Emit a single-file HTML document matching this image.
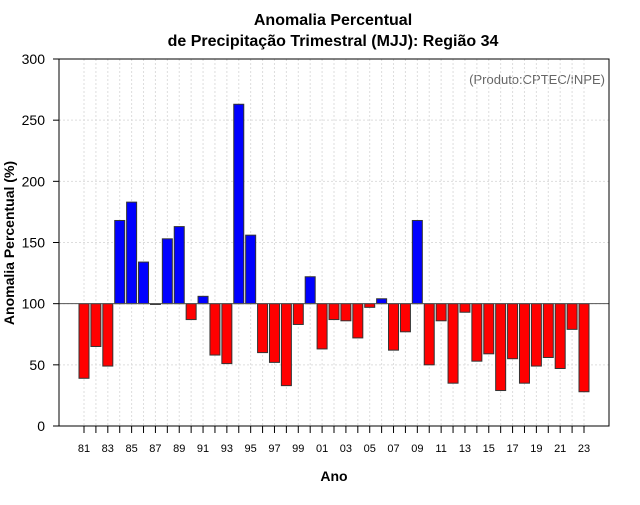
<!DOCTYPE html>
<html><head><meta charset="utf-8"><style>
body{margin:0;background:#fff}
svg{font-family:"Liberation Sans",sans-serif}
</style></head><body>
<svg id="chart" width="640" height="500" xmlns="http://www.w3.org/2000/svg">
<rect width="640" height="500" fill="#fff"/>
<text x="333" y="25" text-anchor="middle" font-size="16" font-weight="bold">Anomalia Percentual</text>
<text x="333" y="46" text-anchor="middle" font-size="16" font-weight="bold">de Precipitação Trimestral (MJJ): Região 34</text>
<text x="605" y="84" text-anchor="end" font-size="13" fill="#666">(Produto:CPTEC/INPE)</text>
<text x="334" y="481" text-anchor="middle" font-size="14" font-weight="bold">Ano</text>
<text transform="translate(14,243) rotate(-90)" text-anchor="middle" font-size="14" font-weight="bold">Anomalia Percentual (%)</text>
<g id="grid"></g><g id="bars"></g><g id="axes"></g>
</svg>
<script>
const years=[81,82,83,84,85,86,87,88,89,90,91,92,93,94,95,96,97,98,99,0,1,2,3,4,5,6,7,8,9,10,11,12,13,14,15,16,17,18,19,20,21,22,23];
const values=[39,65,49,168,183,134,100,153,163,87,106,58,51,263,156,60,52,33,83,122,63,87,86,72,97,104,62,77,168,50,86,35,93,53,59,29,55,35,49,56,47,79,28];
const yTicks=[0,50,100,150,200,250,300];
const NS="http://www.w3.org/2000/svg";
const L=59,R=609,T=59,B=426;
const x=i=>84+i*(500/42);
const y=v=>B-(v/300)*(B-T);
function mk(tag,attrs,parent){const e=document.createElementNS(NS,tag);for(const k in attrs)e.setAttribute(k,attrs[k]);parent.appendChild(e);return e;}
const grid=document.getElementById('grid'),bars=document.getElementById('bars'),axes=document.getElementById('axes');
yTicks.forEach(t=>{
 if(t>0&&t<300){const g=mk('line',{x1:L,x2:R,y1:y(t),y2:y(t),stroke:'#ddd','stroke-dasharray':'2,2'},grid);
 
 }
 const tk=mk('line',{x1:L-6,x2:L,y1:y(t),y2:y(t),stroke:'#000'},axes);
 
 
 const lb=mk('text',{x:L-14,y:y(t)+5,'text-anchor':'end','font-size':14},axes);lb.textContent=t;
 
 
});
years.forEach((yr,i)=>{
 const g=mk('line',{x1:x(i),x2:x(i),y1:T,y2:B,stroke:'#ddd','stroke-dasharray':'2,2'},grid);
 
 
 const v=values[i];
 const r=mk('rect',{x:x(i)-5,width:10,y:Math.min(y(v),y(100)),height:Math.max(Math.abs(y(v)-y(100)),0.8),fill:v>=100?'#0000ff':'#ff0000',stroke:'#333','stroke-width':1},bars);
 
 
 const tk=mk('line',{x1:x(i),x2:x(i),y1:B,y2:B+7,stroke:'#000'},axes);
 
 
 if(i%2===0){const lb=mk('text',{x:x(i),y:452,'text-anchor':'middle','font-size':11},axes);lb.textContent=String(yr).padStart(2,'0');
 
 }
});
const base=mk('line',{x1:L,x2:R,y1:y(100),y2:y(100),stroke:'#555'},axes);


const fr=mk('rect',{x:L,y:T,width:R-L,height:B-T,fill:'none',stroke:'#000'},axes);


</script>
</body></html>
